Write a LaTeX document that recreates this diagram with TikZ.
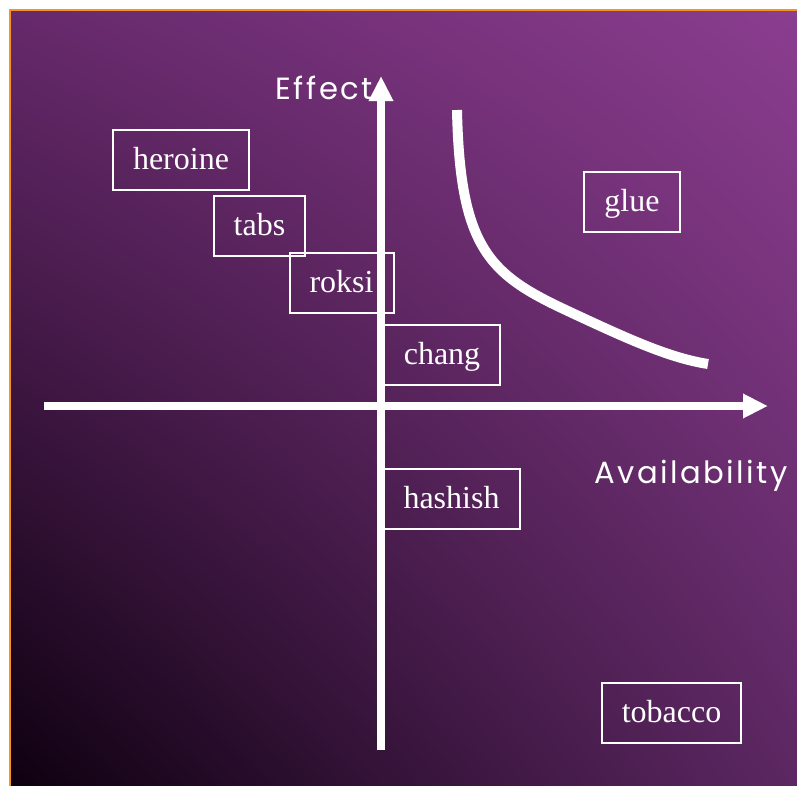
\documentclass[tikz,border=0pt]{standalone}
\usepackage{fontspec}
\setmainfont{Liberation Serif}
\newfontfamily\axisfont[LetterSpace=8]{Poppins}
\usetikzlibrary{arrows.meta,shadings}
\definecolor{bgdark}{HTML}{0E0010}
\definecolor{bgtop}{HTML}{8B3D8F}
\definecolor{bgleft}{HTML}{66296B}
\definecolor{bgright}{HTML}{5C2762}
\definecolor{rim}{HTML}{F7941D}
\tikzset{
  drug/.style={draw=white, line width=1.5pt, text=white, inner xsep=15pt,
    minimum height=45pt, text height=17pt, text depth=2.5pt,
    font=\fontsize{24}{28}\selectfont},
  axis/.style={white, line width=6pt, -{Triangle[length=18.75pt,width=17.25pt]}},
  axislabel/.style={text=white, inner sep=0pt, font=\axisfont\fontsize{23}{26}\selectfont}
}
\newcommand{\drugbox}[4]{
  \node [drug] (#1) at (#2,#3) {#4};
}

\begin{document}
\begin{tikzpicture}[x=0.75pt,y=-0.75pt]
\useasboundingbox (0,0) rectangle (797,786);
\shade [upper left=bgleft, upper right=bgtop, lower left=bgdark, lower right=bgright]
  (10,10) rectangle (797,786);
\draw [rim, line width=1.5pt] (10,786) -- (10,10) -- (797,10);
% curve
\draw [white, line width=7.5pt] (457,110) .. controls (460,250) and (490,275) .. (570,312)
  .. controls (630,340) and (670,358) .. (708,364);
% axes
\draw [axis] (381,750) -- (381,76);
\draw [axis] (44,406) -- (768,406);
\node [axislabel, anchor=base east] (effect) at (373,99) {Effect};
\node [axislabel, anchor=base west] (avail) at (594,483) {Availability};
\drugbox{heroine}{181}{159.5}{heroine}
\drugbox{tabs}{259.5}{226}{tabs}
\drugbox{roksi}{341.5}{283}{roksi}
\drugbox{chang}{442}{354.5}{chang}
\drugbox{hashish}{451.5}{499}{hashish}
\drugbox{glue}{632}{201.5}{glue}
\drugbox{tobacco}{671.5}{712.5}{tobacco}
\end{tikzpicture}
\end{document}
